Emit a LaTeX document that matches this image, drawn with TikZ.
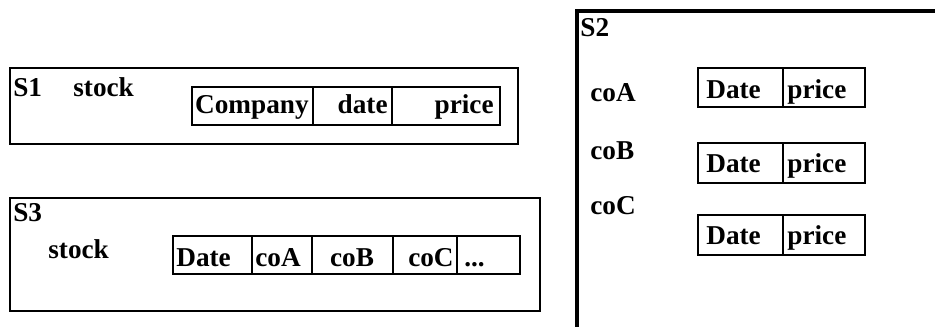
\documentclass[tikz,border=0pt]{standalone}
\usepackage{fontspec}
\setmainfont{Liberation Serif}
\usepackage{tikz}

\tikzset{
  txt/.style={inner sep=0pt, font=\bfseries\fontsize{15.5}{18}\selectfont},
  frame/.style={line width=1.3pt},
  cell/.style={line width=1.2pt}
}

\begin{document}
\begin{tikzpicture}[x=0.02cm, y=-0.02cm]
        \useasboundingbox (0,0) rectangle (935,327);
        % S1
        \draw[frame] (10,68) rectangle (518,144);
        \node[txt, anchor=base west] (s1) at (13,97) {S1};
        \node[txt, anchor=base west] (s1stock) at (73,97) {stock};
        \draw[cell] (192,87) rectangle (313,125);
        \draw[cell] (313,87) rectangle (392,125);
        \draw[cell] (392,87) rectangle (500,125);
        \node[txt, anchor=base east] (s1co) at (309,114) {Company};
        \node[txt, anchor=base east] (s1date) at (388,114) {date};
        \node[txt, anchor=base east] (s1price) at (494,114) {price};
        % S3
        \draw[frame] (10,198) rectangle (540,311);
        \node[txt, anchor=base west] (s3) at (13,222) {S3};
        \node[txt, anchor=base west] (s3stock) at (48,258) {stock};
        \draw[cell] (173,236) rectangle (252,274);
        \draw[cell] (252,236) rectangle (312,274);
        \draw[cell] (312,236) rectangle (393,274);
        \draw[cell] (393,236) rectangle (457,274);
        \draw[cell] (457,236) rectangle (520,274);
        \node[txt, anchor=base west] (s3date) at (176,266) {Date};
        \node[txt, anchor=base west] (s3coa) at (255,266) {coA};
        \node[txt, anchor=base] (s3cob) at (352,266) {coB};
        \node[txt, anchor=base east] (s3coc) at (454,266) {coC};
        \node[txt, anchor=base west] (s3more) at (464,266) {...};
        % S2
        \draw[frame, line width=1.8pt] (577,330) -- (577,11) -- (938,11);
        \node[txt, anchor=base west] (s2) at (580,37) {S2};
        \node[txt, anchor=base west] (s2coa) at (590,102) {coA};
        \node[txt, anchor=base west] (s2cob) at (590,160) {coB};
        \node[txt, anchor=base west] (s2coc) at (590,215) {coC};
        \draw[cell] (698,68) rectangle (783,107);
        \draw[cell] (783,68) rectangle (865,107);
        \node[txt, anchor=base west] (adate) at (706,99) {Date};
        \node[txt, anchor=base west] (aprice) at (787,99) {price};
        \draw[cell] (698,143) rectangle (783,183);
        \draw[cell] (783,143) rectangle (865,183);
        \node[txt, anchor=base west] (bdate) at (706,173) {Date};
        \node[txt, anchor=base west] (bprice) at (787,173) {price};
        \draw[cell] (698,215) rectangle (783,255);
        \draw[cell] (783,215) rectangle (865,255);
        \node[txt, anchor=base west] (cdate) at (706,245) {Date};
        \node[txt, anchor=base west] (cprice) at (787,245) {price};
    \end{tikzpicture}
\end{document}
